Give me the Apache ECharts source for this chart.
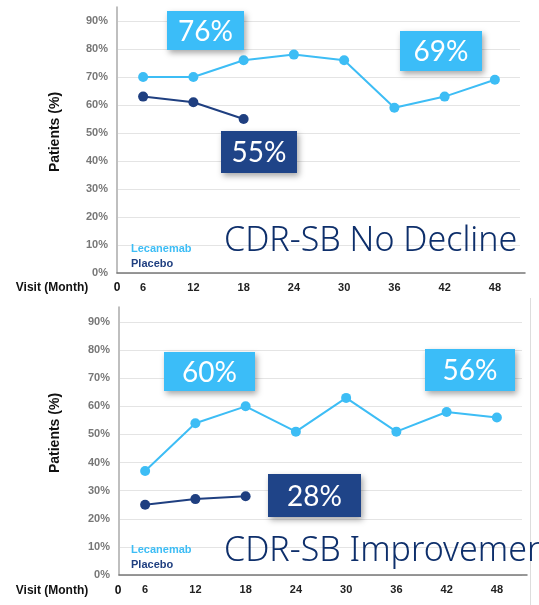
<!DOCTYPE html>
<html lang="en">
<head>
<meta charset="UTF-8">
<title>CDR-SB No Decline / Improvement</title>
<script src="https://cdn.jsdelivr.net/npm/echarts@6/dist/echarts.min.js"></script>
<style>
    html, body { margin: 0; background: #fff; }
    #chart { width: 539px; height: 605px; }
</style>
</head>
<body>
<div id="chart"></div>
<script>
// visit months (the "0" at the origin is drawn as a separate label)
var months = ['6', '12', '18', '24', '30', '36', '42', '48'];

// CDR-SB No Decline (% patients)
var noDeclineLecanemab = [70, 70, 76, 78, 76, 59, 63, 69];
var noDeclinePlacebo = [63, 61, 55];

// CDR-SB Improvement (% patients)
var improveLecanemab = [37, 54, 60, 51, 63, 51, 58, 56];
var improvePlacebo = [25, 27, 28];

var LIGHT = '#3dbdf5';
var DARK = '#1f3f80';
var BOX_LIGHT = '#3bbdf8';
var BOX_DARK = '#1f4488';
var NAVY = '#0e2f6b';

var chart = echarts.init(document.getElementById('chart'));

// main grid + "frame" grid (only axis lines, a bit taller / wider)
var panels = [
    { left: 118, top: 21, h: 252, frameTop: 7, frameRight: 525 },
    { left: 120, top: 322, h: 253, frameTop: 307, frameRight: 527 }
];

var grids = [], xAxes = [], yAxes = [];
panels.forEach(function (p) {
    grids.push({ left: p.left, top: p.top, width: 402, height: p.h });
    grids.push({ left: p.left - 1, top: p.frameTop, width: p.frameRight - p.left + 1, height: p.top + p.h - p.frameTop });
    var gi = grids.length - 2;
    xAxes.push({
        gridIndex: gi, type: 'category', data: months, boundaryGap: true,
        axisLine: { show: false }, axisTick: { show: false },
        axisLabel: { margin: 9, color: '#222', fontWeight: 'bold', fontSize: 11, fontFamily: 'Liberation Sans' }
    });
    xAxes.push({
        gridIndex: gi + 1, type: 'value', min: 0, max: 1,
        axisLine: { show: true, lineStyle: { color: '#777', width: 1.5 } },
        axisTick: { show: false }, axisLabel: { show: false }, splitLine: { show: false }
    });
    yAxes.push({
        gridIndex: gi, type: 'value', min: 0, max: 90, interval: 10,
        axisLine: { show: false }, axisTick: { show: false },
        axisLabel: { formatter: '{value}%', margin: 10, color: '#777', fontWeight: 'bold', fontSize: 11, fontFamily: 'Liberation Sans' },
        splitLine: { lineStyle: { color: '#e4e4e4', width: 1 } }
    });
    yAxes.push({
        gridIndex: gi + 1, type: 'value', min: 0, max: 1,
        axisLine: { show: true, lineStyle: { color: '#aaa', width: 1.5 } },
        axisTick: { show: false }, axisLabel: { show: false }, splitLine: { show: false }
    });
});

function lineSeries(name, data, color, axis) {
    return {
        name: name, type: 'line', data: data,
        xAxisIndex: axis, yAxisIndex: axis,
        symbol: 'circle', symbolSize: 10,
        itemStyle: { color: color },
        lineStyle: { color: color, width: 2 },
        z: 5
    };
}

function legendAt(top) {
    return {
        orient: 'vertical', left: 121, top: top, itemGap: 4,
        icon: 'none', itemWidth: 0, itemHeight: 10, selectedMode: false,
        textStyle: { fontWeight: 'bold', fontSize: 11, fontFamily: 'Liberation Sans', padding: 0 },
        data: [
            { name: 'Lecanemab', textStyle: { color: LIGHT } },
            { name: 'Placebo', textStyle: { color: DARK } }
        ]
    };
}

function callout(x, y, w, h, text, fill) {
    return {
        type: 'group', left: x, top: y, z: 20,
        children: [
            { type: 'rect', z: 20, shape: { x: 0, y: 0, width: w, height: h },
              style: { fill: fill, shadowBlur: 6, shadowOffsetX: 2, shadowOffsetY: 3, shadowColor: 'rgba(0,0,0,0.35)' } },
            { type: 'text', z: 21, x: w / 2, y: h / 2 + 1,
              style: { text: text, fill: '#fff', font: '28px Lato', align: 'center', verticalAlign: 'middle' } }
        ]
    };
}

function plain(x, y, text, font, fill, extra) {
    var el = { type: 'text', x: x, y: y, z: 20,
        style: { text: text, font: font, fill: fill, align: 'center', verticalAlign: 'middle' } };
    if (extra) Object.assign(el, extra);
    return el;
}

var axisFont = 'bold 12px "Liberation Sans"';
var titleFont = '300 34px "Noto Sans"';

chart.setOption({
    animation: false,
    grid: grids,
    xAxis: xAxes,
    yAxis: yAxes,
    legend: [legendAt(238), legendAt(539)],
    series: [
        lineSeries('Lecanemab', noDeclineLecanemab, LIGHT, 0),
        lineSeries('Placebo', noDeclinePlacebo, DARK, 0),
        lineSeries('Lecanemab', improveLecanemab, LIGHT, 2),
        lineSeries('Placebo', improvePlacebo, DARK, 2)
    ],
    graphic: [
        // panel 1
        plain(52, 288, 'Visit (Month)', axisFont, '#111'),
        plain(117, 288, '0', axisFont, '#111'),
        plain(55, 132, 'Patients (%)', 'bold 14px "Liberation Sans"', '#111', { rotation: Math.PI / 2 }),
        callout(167, 11, 77, 39, noDeclineLecanemab[2] + '%', BOX_LIGHT),
        callout(221, 131, 76, 42, noDeclinePlacebo[2] + '%', BOX_DARK),
        callout(400, 31, 82, 40, noDeclineLecanemab[7] + '%', BOX_LIGHT),
        { type: 'text', x: 224, y: 258, z: 20,
          style: { text: 'CDR-SB No Decline', font: titleFont, fill: NAVY, verticalAlign: 'bottom' } },
        // panel 2
        plain(52, 591, 'Visit (Month)', axisFont, '#111'),
        plain(118, 591, '0', axisFont, '#111'),
        plain(55, 433, 'Patients (%)', 'bold 14px "Liberation Sans"', '#111', { rotation: Math.PI / 2 }),
        callout(164, 352, 91, 39, improveLecanemab[2] + '%', BOX_LIGHT),
        callout(425, 349, 90, 42, improveLecanemab[7] + '%', BOX_LIGHT),
        callout(268, 474, 93, 43, improvePlacebo[2] + '%', BOX_DARK),
        { type: 'text', x: 224, y: 568, z: 20,
          style: { text: 'CDR-SB Improvement', font: titleFont, fill: NAVY, verticalAlign: 'bottom' } },
        // right border of the lower panel
        { type: 'line', shape: { x1: 530.5, y1: 298, x2: 530.5, y2: 605 },
          style: { stroke: '#ddd', lineWidth: 1 }, z: 1 }
    ]
});
</script>
</body>
</html>
